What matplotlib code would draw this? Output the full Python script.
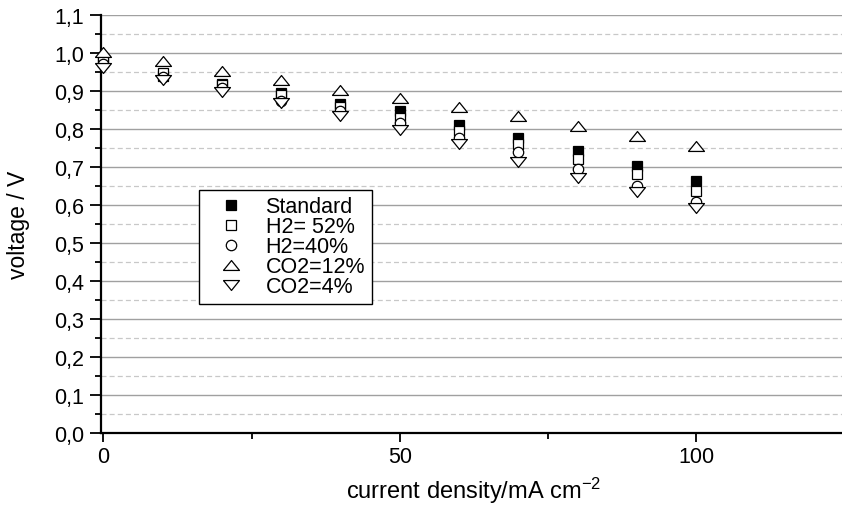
#!/usr/bin/env python3
import matplotlib
matplotlib.use("Agg")
import matplotlib.pyplot as plt
from matplotlib.ticker import MultipleLocator, FuncFormatter

# current density (mA cm-2) and voltage (V)
current = [0, 10, 20, 30, 40, 50, 60, 70, 80, 90, 100]

standard = [0.975, 0.940, 0.918, 0.895, 0.865, 0.846, 0.810, 0.777, 0.742, 0.703, 0.663]
h2_52 = [0.977, 0.946, 0.914, 0.889, 0.857, 0.829, 0.795, 0.760, 0.720, 0.680, 0.637]
h2_40 = [0.970, 0.936, 0.908, 0.873, 0.848, 0.816, 0.775, 0.738, 0.694, 0.649, 0.608]
co2_12 = [1.002, 0.977, 0.952, 0.927, 0.903, 0.880, 0.858, 0.834, 0.808, 0.782, 0.756]
co2_4 = [0.961, 0.927, 0.897, 0.869, 0.833, 0.798, 0.760, 0.712, 0.671, 0.633, 0.592]

labels = ["Standard", "H2= 52%", "H2=40%", "CO2=12%", "CO2=4%"]

# flattened triangles, the original picture is stretched sideways
tri_up = [(-1, -0.62), (1, -0.62), (0, 0.62), (-1, -0.62)]
tri_down = [(-1, 0.62), (1, 0.62), (0, -0.62), (-1, 0.62)]

font = "Liberation Sans"
plt.rcParams["font.family"] = [font, "DejaVu Sans"]
plt.rcParams["mathtext.fontset"] = "custom"
plt.rcParams["mathtext.rm"] = font
plt.rcParams["mathtext.it"] = font

fig = plt.figure(figsize=(8.42, 5.06), dpi=100)
ax = fig.add_axes([101 / 842, 72 / 506, 741 / 842, 418.3 / 506])

styles = [
    (standard, dict(marker="s", markersize=6.5, markerfacecolor="black")),
    (h2_52, dict(marker="s", markersize=6.5, markerfacecolor="white")),
    (h2_40, dict(marker="o", markersize=7.5, markerfacecolor="white")),
    (co2_12, dict(marker=tri_up, markersize=11.5, markerfacecolor="white")),
    (co2_4, dict(marker=tri_down, markersize=11.5, markerfacecolor="white")),
]
for (values, st), lab in zip(styles, labels):
    ax.plot(current, values, linestyle="none", markeredgecolor="black",
            markeredgewidth=0.9, label=lab, clip_on=False, zorder=3, **st)

ax.set_xlim(-0.4, 124.6)
ax.set_ylim(0, 1.1)

ax.xaxis.set_major_locator(MultipleLocator(50))
ax.xaxis.set_minor_locator(MultipleLocator(25))
ax.yaxis.set_major_locator(MultipleLocator(0.1))
ax.yaxis.set_minor_locator(MultipleLocator(0.05))
ax.yaxis.set_major_formatter(FuncFormatter(lambda v, p: f"{v:.1f}".replace(".", ",")))
ax.xaxis.set_major_formatter(FuncFormatter(lambda v, p: f"{v:.0f}"))

ax.tick_params(axis="y", which="major", length=8, width=1.3, labelsize=15.5, pad=4)
ax.tick_params(axis="y", which="minor", length=4, width=1.3)
ax.tick_params(axis="x", which="major", length=6.5, width=1.3, labelsize=15.5, pad=3)
ax.tick_params(axis="x", which="minor", length=4, width=1.3)

ax.grid(True, axis="y", which="major", color="#a0a0a0", linewidth=1.0, linestyle="-")
ax.grid(True, axis="y", which="minor", color="#c8c8c8", linewidth=0.9, linestyle=(0, (4, 2.5)))
ax.set_axisbelow(True)
fig.canvas.draw()
ax.get_ygridlines()[-1].set_visible(False)

for side in ("top", "right"):
    ax.spines[side].set_visible(False)
for side in ("left", "bottom"):
    ax.spines[side].set_linewidth(1.6)

ax.set_ylabel("voltage / V", fontsize=16.5)
ax.yaxis.set_label_coords(-0.111, 0.5)
ax.yaxis.label.set_va("center")
ax.set_xlabel("current density/mA cm$^{-2}$", fontsize=17)
ax.xaxis.set_label_coords(0.503, -0.136)
ax.xaxis.label.set_va("center")

leg = ax.legend(loc="upper left", bbox_to_anchor=(0.132, 0.581), fontsize=15.5,
                frameon=True, fancybox=False, edgecolor="black", framealpha=1,
                borderpad=0.3, handlelength=2.4, handletextpad=0.4,
                labelspacing=-0.05, borderaxespad=0)
leg.get_frame().set_linewidth(1.0)

fig.savefig("out.png", dpi=100)
